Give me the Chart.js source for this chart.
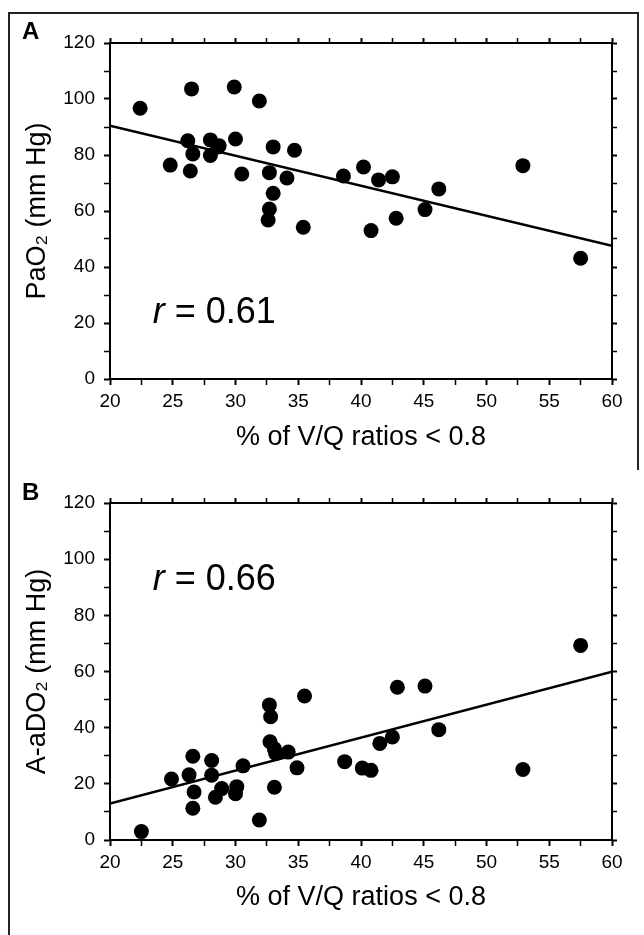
<!DOCTYPE html>
<html>
<head>
<meta charset="utf-8">
<style>
  body { margin: 0; background: #fff; }
  #wrap { position: relative; width: 644px; height: 935px; overflow: hidden; }
  .frame { position: absolute; background: #222; }
  canvas { position: absolute; left: 0; }
  .tag { position: absolute; font: bold 24px "Liberation Sans", Arial, sans-serif; line-height: 24px; }
</style>
</head>
<body>
<div id="wrap">
  <div class="frame" style="left:8px; top:12px; width:631px; height:2px;"></div>
  <div class="frame" style="left:8px; top:12px; width:2px; height:923px;"></div>
  <div class="frame" style="left:637px; top:12px; width:2px; height:458px;"></div>
  <canvas id="chartA" width="644" height="470" style="top:0"></canvas>
  <canvas id="chartB" width="644" height="465" style="top:470px"></canvas>
  <div class="tag" style="left:22px; top:19px;">A</div>
  <div class="tag" style="left:22px; top:480px;">B</div>
</div>

<script src="https://cdn.jsdelivr.net/npm/chart.js"></script>
<script>
  // tick labels shared by both panels
  const xTicks = [20, 25, 30, 35, 40, 45, 50, 55, 60];
  const yTicks = [0, 20, 40, 60, 80, 100, 120];

  // panel A: PaO2 vs % of V/Q ratios < 0.8
  const vqA = [22.4, 24.8, 26.5, 26.2, 26.6, 26.4, 28.0, 28.0, 28.6, 28.7, 29.9, 30.0, 30.5,
               31.9, 32.7, 33.0, 33.0, 32.7, 32.6, 34.1, 34.7, 35.4, 38.6, 40.2, 40.8, 41.4,
               42.5, 42.8, 45.1, 46.2, 52.9, 57.5];
  const pao2 = [96.7, 76.4, 103.6, 85.1, 80.4, 74.3, 85.4, 79.8, 82.9, 83.3, 104.3, 85.7, 73.2,
                99.3, 73.7, 82.9, 66.3, 60.7, 56.8, 71.8, 81.7, 54.2, 72.5, 75.7, 53.0, 71.1,
                72.2, 57.4, 60.5, 67.9, 76.2, 43.1];
  const fitA = [90.5, 47.6];   // regression line at x = 20 and x = 60

  // panel B: A-aDO2 vs % of V/Q ratios < 0.8
  const vqB = [22.5, 24.9, 26.3, 26.6, 26.7, 26.6, 28.1, 28.1, 28.9, 28.4, 30.1, 30.0, 30.6,
               31.9, 32.7, 32.8, 32.75, 33.1, 33.1, 33.2, 34.2, 34.9, 35.5, 38.7, 40.1, 40.8,
               41.5, 42.5, 42.9, 45.1, 46.2, 52.9, 57.5];
  const aado2 = [3.0, 21.7, 23.2, 29.8, 17.1, 11.3, 28.3, 23.1, 18.3, 15.2, 19.0, 16.5, 26.4,
                 7.1, 48.1, 43.9, 35.0, 32.5, 18.8, 30.8, 31.3, 25.7, 51.3, 27.9, 25.6, 24.8,
                 34.4, 36.7, 54.4, 54.8, 39.3, 25.1, 69.3];
  const fitB = [13.0, 59.9];

  const fontFam = '"Liberation Sans", Arial, Helvetica, sans-serif';

  // writes "r = 0.xx" inside the plot, placed with the chart's own scales
  const rLabel = {
    id: 'rLabel',
    afterDatasetsDraw(chart, args, opts) {
      const { ctx, scales: { x, y } } = chart;
      const px = x.getPixelForValue(opts.at[0]);
      const py = y.getPixelForValue(opts.at[1]);
      ctx.save();
      ctx.fillStyle = '#000';
      ctx.textBaseline = 'alphabetic';
      ctx.font = 'italic 36px ' + fontFam;
      ctx.fillText('r', px, py);
      const w = ctx.measureText('r').width;
      ctx.font = '36px ' + fontFam;
      ctx.fillText(' = ' + opts.text, px + w, py);
      ctx.restore();
    }
  };

  function tickW(c) {
    return c.tick && (c.tick.value % 5 === 0) ? 2 : 1.5;
  }

  function panel(id, xs, ys, fit, yTitle, rText, rAt, box) {
    const axisGrid = { display: true, drawOnChartArea: false, drawTicks: true, tickLength: 6, tickColor: '#000' };
    const border = { display: true, color: '#000', width: 2 };

    new Chart(document.getElementById(id), {
      type: 'scatter',
      data: {
        datasets: [
          {
            data: xs.map((v, i) => ({ x: v, y: ys[i] })),
            backgroundColor: '#000',
            borderWidth: 0,
            pointRadius: 7.5,
            clip: false
          },
          {
            data: [{ x: 20, y: fit[0] }, { x: 60, y: fit[1] }],
            showLine: true,
            borderColor: '#000',
            borderWidth: 2.5,
            pointRadius: 0,
            fill: false
          }
        ]
      },
      options: {
        responsive: false,
        animation: false,
        devicePixelRatio: 1,
        layout: { padding: 0 },
        plugins: {
          legend: { display: false },
          tooltip: { enabled: false },
          rLabel: { text: rText, at: rAt }
        },
        scales: {
          x: {
            type: 'linear', position: 'bottom', min: 20, max: 60,
            afterFit: s => { s.height = box.bottom; },
            border: border,
            grid: Object.assign({}, axisGrid, { tickWidth: tickW }),
            ticks: {
              stepSize: 2.5, padding: 5, color: '#000', maxRotation: 0, autoSkip: false,
              font: { family: fontFam, size: 19 },
              callback: v => xTicks.includes(v) ? String(v) : ''
            },
            title: {
              display: true, text: '% of V/Q ratios < 0.8', color: '#000',
              font: { family: fontFam, size: 27 },
              padding: { top: 0, bottom: box.titlePad }
            }
          },
          x2: {
            type: 'linear', position: 'top', min: 20, max: 60,
            afterFit: s => { s.height = box.top; },
            border: border,
            grid: Object.assign({}, axisGrid, { tickLength: 5, tickWidth: tickW }),
            ticks: { stepSize: 2.5, display: false, autoSkip: false }
          },
          y: {
            type: 'linear', position: 'left', min: 0, max: 120,
            afterFit: s => { s.width = 110; },
            border: border,
            grid: Object.assign({}, axisGrid, { tickWidth: c => c.tick && c.tick.value % 20 === 0 ? 2 : 1.5 }),
            ticks: {
              stepSize: 10, padding: 9, color: '#000', autoSkip: false,
              font: { family: fontFam, size: 19 },
              callback: v => yTicks.includes(v) ? String(v) : ''
            },
            title: {
              display: true, text: yTitle, color: '#000',
              font: { family: fontFam, size: 27 },
              padding: { top: 21, bottom: 0 }
            }
          },
          y2: {
            type: 'linear', position: 'right', min: 0, max: 120,
            afterFit: s => { s.width = 32; },
            border: border,
            grid: Object.assign({}, axisGrid, { tickLength: 5, tickWidth: c => c.tick && c.tick.value % 20 === 0 ? 2 : 1.5 }),
            ticks: { stepSize: 10, display: false, autoSkip: false }
          }
        }
      },
      plugins: [rLabel]
    });
  }

  panel('chartA', vqA, pao2, fitA, 'PaO₂ (mm Hg)', '0.61', [23.4, 20],
        { top: 43, bottom: 91, titlePad: 16 });
  panel('chartB', vqB, aado2, fitB, 'A-aDO₂ (mm Hg)', '0.66', [23.4, 89],
        { top: 33, bottom: 95, titlePad: 21 });
</script>
</body>
</html>
